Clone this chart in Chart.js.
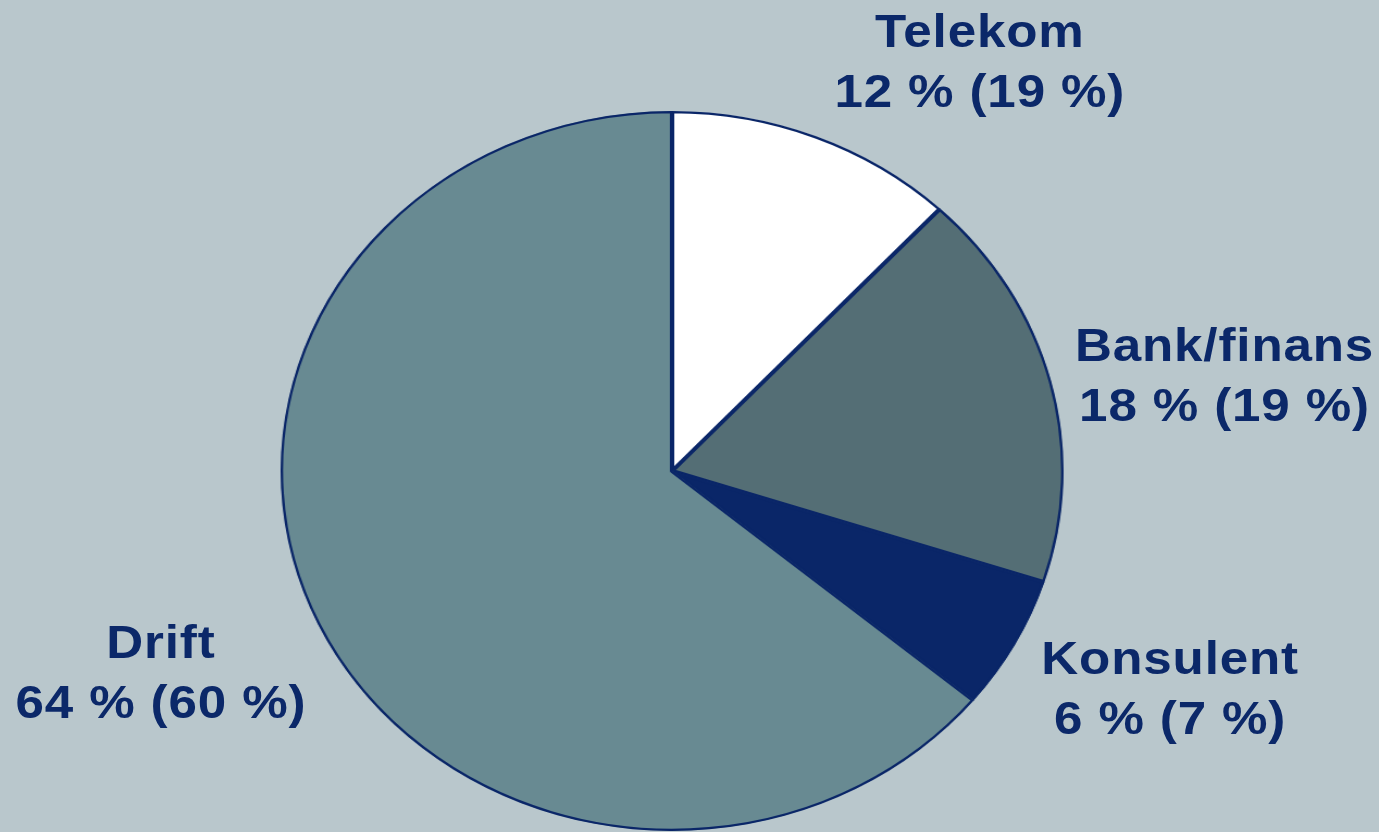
<!DOCTYPE html>
<html>
<head>
<meta charset="utf-8">
<script src="https://cdn.jsdelivr.net/npm/chart.js@4.4.1/dist/chart.umd.min.js"></script>
<style>
  html, body { margin: 0; padding: 0; background: #B9C7CC; overflow: hidden; }
  #stage {
    position: absolute; left: 0; top: 0; width: 1268px; height: 832px;
    transform: scaleX(1.0875); transform-origin: 0 0;
  }
  #pieBox { position: absolute; left: 258px; top: 111px; width: 720px; height: 720px; }
  .lbl {
    position: absolute; transform: translateX(-50%); white-space: nowrap; text-align: center;
    font-family: "Liberation Sans", Arial, sans-serif; font-weight: bold; font-size: 47px;
    letter-spacing: 0.8px; line-height: 60px; color: #0B2869;
  }
</style>
</head>
<body>
<div id="stage">
  <div id="pieBox"><canvas id="myChart" width="720" height="720"></canvas></div>
</div>
<script>
// DATOS DEL GRAFICO
const categories = ["Telekom", "Bank/finans", "Konsulent", "Drift"];
const shares = [12, 18, 6, 64];
const prevShares = [19, 19, 7, 60];
const colors = ["#FFFFFF", "#546E75", "#0A2668", "#688A92"];

// posicion de las etiquetas (centro x, top) en el lienzo sin estirar
const labelPos = [[901, 1], [1126, 315], [1076, 628], [148, 612]];

const stage = document.getElementById("stage");
categories.forEach((name, i) => {
  const div = document.createElement("div");
  div.className = "lbl";
  div.style.left = labelPos[i][0] + "px";
  div.style.top = labelPos[i][1] + "px";
  div.innerHTML = name + "<br>" + shares[i] + " % (" + prevShares[i] + " %)";
  stage.appendChild(div);
});

const ctx = document.getElementById("myChart");
const myChart = new Chart(ctx, {
  type: "pie",
  data: {
    labels: categories,
    datasets: [{
      data: shares,
      backgroundColor: colors,
      borderColor: "#0A2668",
      borderWidth: 2,
      borderAlign: "inner"
    }]
  },
  options: {
    responsive: false,
    animation: false,
    layout: { padding: 0 },
    plugins: { legend: { display: false }, tooltip: { enabled: false } }
  }
});
</script>
</body>
</html>
